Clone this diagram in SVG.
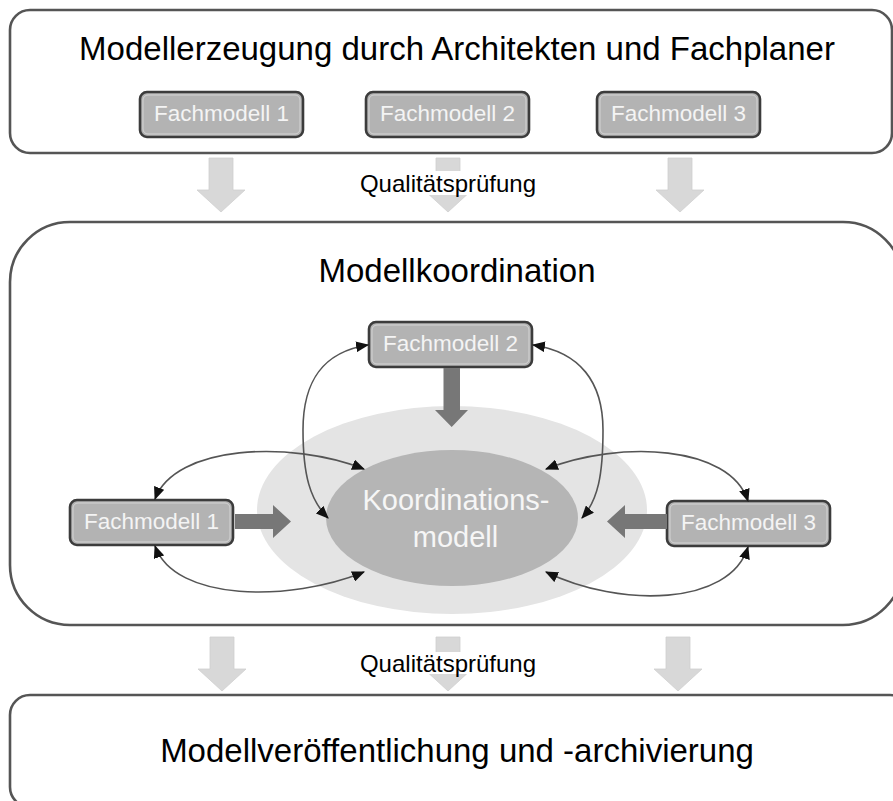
<svg xmlns="http://www.w3.org/2000/svg" width="893" height="801" viewBox="0 0 893 801">
  <style>
    .frame { fill: #ffffff; stroke: #555555; stroke-width: 2.6; }
    .title { font-family: "Liberation Sans", Arial, sans-serif; font-size: 33px; fill: #000000; text-anchor: middle; }
    .qp { font-family: "Liberation Sans", Arial, sans-serif; font-size: 24px; fill: #000000; text-anchor: middle; }
    .fm-box { fill: #b3b3b3; stroke: #3c3c3c; stroke-width: 2.6; }
    .fm-inner { fill: none; stroke: #d4d4d4; stroke-width: 1; }
    .fm-text { font-family: "Liberation Sans", Arial, sans-serif; font-size: 22.5px; fill: #f4f4f4; text-anchor: middle; }
    .flow { fill: #d8d8d8; stroke: #cfcfcf; stroke-width: 0.8; }
    .thick { fill: #777777; }
    .link { fill: none; stroke: #555555; stroke-width: 1.6; }
    .core-text { font-family: "Liberation Sans", Arial, sans-serif; font-size: 29px; fill: #f6f6f6; text-anchor: middle; }
  </style>
  <defs>
    <marker id="tip" viewBox="0 0 12 10" markerUnits="userSpaceOnUse" markerWidth="13" markerHeight="11" refX="11" refY="5" orient="auto-start-reverse">
      <path d="M0,0 L12,5 L0,10 z" fill="#111111"/>
    </marker>
    <!-- light downward flow arrow, tip at origin -->
    <path id="flowArrow" d="M-12,-54 H12 V-22 H24 L0,0 L-24,-22 H-12 z"/>
  </defs>

  <!-- stage 1: model creation -->
  <g id="stage-creation">
    <rect class="frame" x="10" y="10" width="882" height="143" rx="20"/>
    <text class="title" x="457" y="60">Modellerzeugung durch Architekten und Fachplaner</text>
    <g id="fm-top-1">
      <rect class="fm-box" x="140" y="92" width="163" height="45" rx="7"/>
      <rect class="fm-inner" x="143" y="95" width="157" height="39" rx="5"/>
      <text class="fm-text" x="221.5" y="121">Fachmodell 1</text>
    </g>
    <g id="fm-top-2">
      <rect class="fm-box" x="366" y="92" width="163" height="45" rx="7"/>
      <rect class="fm-inner" x="369" y="95" width="157" height="39" rx="5"/>
      <text class="fm-text" x="447.5" y="121">Fachmodell 2</text>
    </g>
    <g id="fm-top-3">
      <rect class="fm-box" x="597" y="92" width="163" height="45" rx="7"/>
      <rect class="fm-inner" x="600" y="95" width="157" height="39" rx="5"/>
      <text class="fm-text" x="678.5" y="121">Fachmodell 3</text>
    </g>
  </g>

  <!-- quality check between creation and coordination -->
  <g id="check-1">
    <use href="#flowArrow" class="flow" x="221" y="212"/>
    <use href="#flowArrow" class="flow" x="448" y="212"/>
    <use href="#flowArrow" class="flow" x="680" y="212"/>
    <rect x="354" y="171" width="188" height="24" fill="#ffffff"/>
    <text class="qp" x="448" y="192">Qualitätsprüfung</text>
  </g>

  <!-- stage 2: model coordination -->
  <g id="stage-coordination">
    <rect class="frame" x="10" y="222" width="893" height="403" rx="60"/>
    <text class="title" x="457" y="282">Modellkoordination</text>
  </g>

  <g id="coordination-model">
    <ellipse cx="452" cy="510" rx="195" ry="104" fill="#e4e4e4"/>
    <ellipse cx="452" cy="518" rx="126" ry="68" fill="#b5b5b5"/>
    <text class="core-text" x="456" y="510">Koordinations-</text>
    <text class="core-text" x="455.5" y="547">modell</text>
  </g>

  <g id="fm-coord-2">
    <rect class="fm-box" x="369" y="322" width="163" height="45" rx="7"/>
    <rect class="fm-inner" x="372" y="325" width="157" height="39" rx="5"/>
    <text class="fm-text" x="450.5" y="351">Fachmodell 2</text>
  </g>
  <g id="fm-coord-1">
    <rect class="fm-box" x="70" y="500" width="163" height="45" rx="7"/>
    <rect class="fm-inner" x="73" y="503" width="157" height="39" rx="5"/>
    <text class="fm-text" x="151.5" y="529">Fachmodell 1</text>
  </g>
  <g id="fm-coord-3">
    <rect class="fm-box" x="667" y="501" width="163" height="45" rx="7"/>
    <rect class="fm-inner" x="670" y="504" width="157" height="39" rx="5"/>
    <text class="fm-text" x="748.5" y="530">Fachmodell 3</text>
  </g>

  <!-- connectors -->
  <g id="connectors">
    <!-- feeds into the coordination model -->
    <path class="thick" d="M443.5,368 H460 V410 H468 L451.7,427 L435,410 H443.5 z"/>
    <path class="thick" d="M235,514 H273 V505 L291,521.5 L273,538 V529 H235 z"/>
    <path class="thick" d="M667,514 H625 V505 L607,521.5 L625,538 V529 H667 z"/>
    <!-- two-way links -->
    <path class="link" d="M155,499 C175,445 290,440 364,469" marker-start="url(#tip)" marker-end="url(#tip)"/>
    <path class="link" d="M155,546 C175,602 290,602 364,572" marker-start="url(#tip)" marker-end="url(#tip)"/>
    <path class="link" d="M546,469 C620,440 730,445 748,501" marker-start="url(#tip)" marker-end="url(#tip)"/>
    <path class="link" d="M546,572 C620,608 730,606 748,547" marker-start="url(#tip)" marker-end="url(#tip)"/>
    <path class="link" d="M368,345 C322,352 303,382 303,430 C303,475 310,500 328,518" marker-start="url(#tip)" marker-end="url(#tip)"/>
    <path class="link" d="M533,345 C580,352 603,382 603,430 C603,475 598,500 582,518" marker-start="url(#tip)" marker-end="url(#tip)"/>
  </g>

  <!-- quality check between coordination and publication -->
  <g id="check-2">
    <use href="#flowArrow" class="flow" x="222" y="691"/>
    <use href="#flowArrow" class="flow" x="448" y="691"/>
    <use href="#flowArrow" class="flow" x="678" y="691"/>
    <rect x="354" y="652" width="188" height="22" fill="#ffffff"/>
    <text class="qp" x="448" y="672">Qualitätsprüfung</text>
  </g>

  <!-- stage 3: publication and archiving -->
  <g id="stage-publication">
    <rect class="frame" x="10" y="695" width="900" height="112" rx="20"/>
    <text class="title" x="457" y="762">Modellveröffentlichung und -archivierung</text>
  </g>
</svg>
